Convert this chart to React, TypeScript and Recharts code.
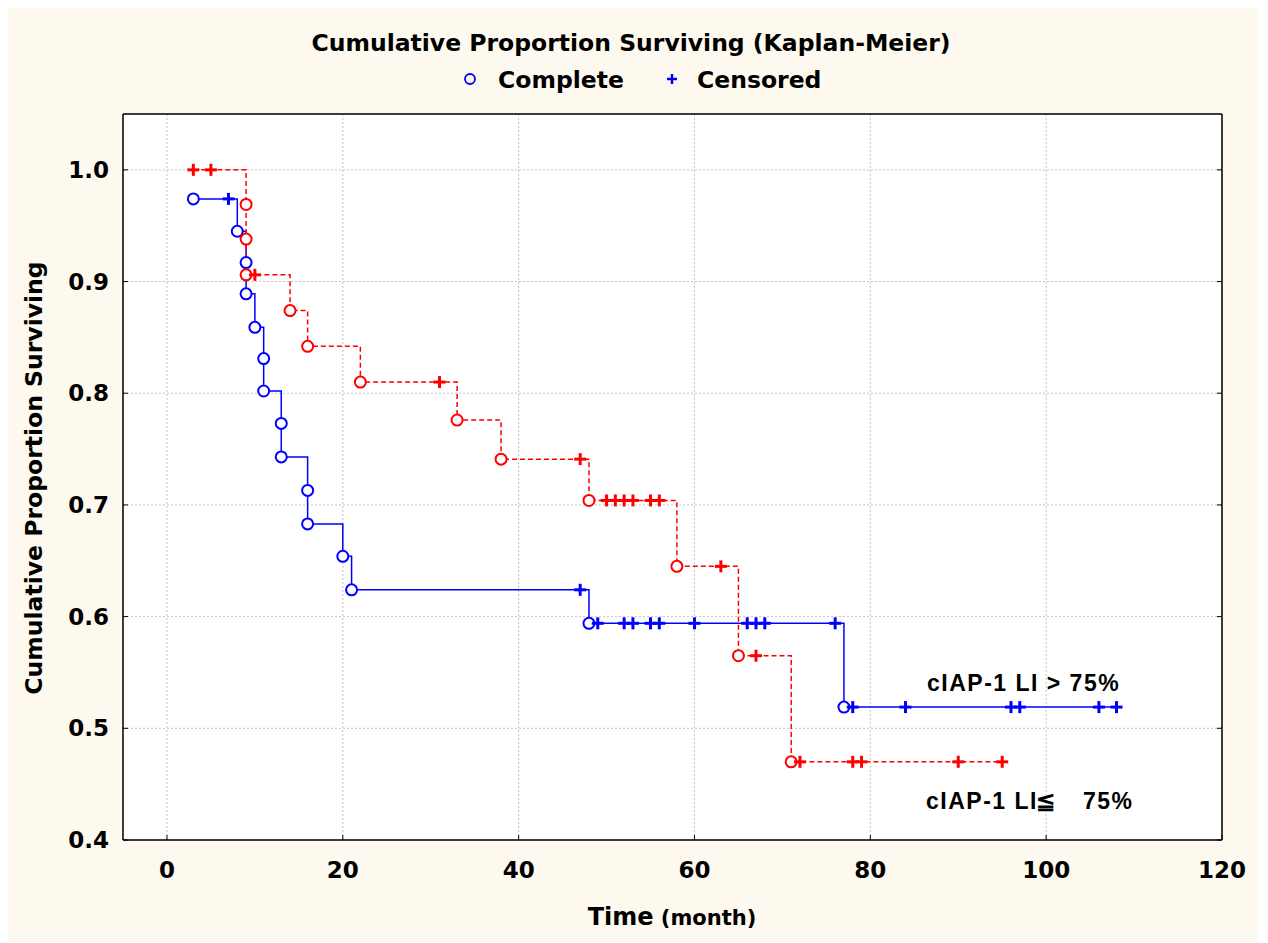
import React from 'react';
import { ComposedChart, Line, Scatter, XAxis, YAxis, CartesianGrid } from 'recharts';

// cIAP-1 LI > 75%  (blue, solid)
const highCurve = [
  { t: 3, s: 0.974 }, { t: 8, s: 0.945 }, { t: 9, s: 0.917 }, { t: 9, s: 0.889 },
  { t: 10, s: 0.859 }, { t: 11, s: 0.831 }, { t: 11, s: 0.802 }, { t: 13, s: 0.773 },
  { t: 13, s: 0.743 }, { t: 16, s: 0.713 }, { t: 16, s: 0.683 }, { t: 20, s: 0.654 },
  { t: 21, s: 0.624 }, { t: 48, s: 0.594 }, { t: 77, s: 0.519 }, { t: 108, s: 0.519 },
];
const highComplete = highCurve.slice(0, 15);
const highCensored = [
  { t: 7, s: 0.974 }, { t: 47, s: 0.624 }, { t: 49, s: 0.594 }, { t: 52, s: 0.594 },
  { t: 53, s: 0.594 }, { t: 55, s: 0.594 }, { t: 56, s: 0.594 }, { t: 60, s: 0.594 },
  { t: 66, s: 0.594 }, { t: 67, s: 0.594 }, { t: 68, s: 0.594 }, { t: 76, s: 0.594 },
  { t: 78, s: 0.519 }, { t: 84, s: 0.519 }, { t: 96, s: 0.519 }, { t: 97, s: 0.519 },
  { t: 106, s: 0.519 }, { t: 108, s: 0.519 },
];

// cIAP-1 LI ≦ 75%  (red, dashed)
const lowCurve = [
  { t: 3, s: 1.0 }, { t: 9, s: 0.969 }, { t: 9, s: 0.938 }, { t: 9, s: 0.906 },
  { t: 14, s: 0.874 }, { t: 16, s: 0.842 }, { t: 22, s: 0.81 }, { t: 33, s: 0.776 },
  { t: 38, s: 0.741 }, { t: 48, s: 0.704 }, { t: 58, s: 0.645 }, { t: 65, s: 0.565 },
  { t: 71, s: 0.47 }, { t: 95, s: 0.47 },
];
const lowComplete = lowCurve.slice(1, 13);
const lowCensored = [
  { t: 3, s: 1.0 }, { t: 5, s: 1.0 }, { t: 10, s: 0.906 }, { t: 31, s: 0.81 },
  { t: 47, s: 0.741 }, { t: 50, s: 0.704 }, { t: 51, s: 0.704 }, { t: 52, s: 0.704 },
  { t: 53, s: 0.704 }, { t: 55, s: 0.704 }, { t: 56, s: 0.704 }, { t: 63, s: 0.645 },
  { t: 67, s: 0.565 }, { t: 72, s: 0.47 }, { t: 78, s: 0.47 }, { t: 79, s: 0.47 },
  { t: 90, s: 0.47 }, { t: 95, s: 0.47 },
];

const xTicks = [0, 20, 40, 60, 80, 100, 120];
const yTicks = [0.4, 0.5, 0.6, 0.7, 0.8, 0.9, 1.0];

const BLUE = '#0000ff';
const RED = '#ff0000';
const FONT = '"DejaVu Sans", Verdana, sans-serif';
const W = 1249;
const H = 934;

const tickStyle = { fill: '#000', fontSize: 23, fontWeight: 'bold', fontFamily: FONT };
const axisLine = { stroke: '#000', strokeWidth: 1.5 };

const circle = (color: string) => (p: any) => (
  <circle cx={p.cx} cy={p.cy} r={5.5} fill="#fff" stroke={color} strokeWidth={2} />
);
const cross = (color: string) => (p: any) => (
  <g stroke={color} strokeWidth={3}>
    <line x1={p.cx - 6} x2={p.cx + 6} y1={p.cy} y2={p.cy} />
    <line x1={p.cx} x2={p.cx} y1={p.cy - 6} y2={p.cy + 6} />
  </g>
);
const noTick = () => <g />;

export default function App() {
  return (
    <div style={{ position: 'relative', width: W, height: H, background: '#fdf9ee' }}>
      <ComposedChart width={W} height={H} margin={{ top: 104, right: 33, bottom: 72, left: 55 }}>
        <CartesianGrid stroke="#c4c4c4" strokeDasharray="2 2" fill="#ffffff" />
        <XAxis
          dataKey="t"
          type="number"
          domain={[-5, 120]}
          ticks={xTicks}
          allowDataOverflow
          height={30}
          tickSize={-5}
          tickMargin={27}
          tick={tickStyle}
          axisLine={axisLine}
          tickLine={{ stroke: '#000' }}
        />
        <XAxis
          xAxisId="top"
          orientation="top"
          type="number"
          domain={[-5, 120]}
          ticks={xTicks}
          allowDataOverflow
          height={2}
          tickSize={-5}
          tick={noTick}
          axisLine={axisLine}
          tickLine={{ stroke: '#000' }}
        />
        <YAxis
          type="number"
          domain={[0.4, 1.05]}
          ticks={yTicks}
          allowDataOverflow
          width={60}
          tickSize={-5}
          tickMargin={19}
          tick={tickStyle}
          tickFormatter={(v: number) => v.toFixed(1)}
          axisLine={axisLine}
          tickLine={{ stroke: '#000' }}
        />
        <YAxis
          yAxisId="right"
          orientation="right"
          type="number"
          domain={[0.4, 1.05]}
          ticks={yTicks}
          allowDataOverflow
          width={2}
          tickSize={-5}
          tick={noTick}
          axisLine={axisLine}
          tickLine={{ stroke: '#000' }}
        />
        <Line data={highCurve} dataKey="s" type="stepAfter" stroke={BLUE} strokeWidth={1.5} dot={false} isAnimationActive={false} />
        <Line data={lowCurve} dataKey="s" type="stepAfter" stroke={RED} strokeWidth={1.5} strokeDasharray="5 3" dot={false} isAnimationActive={false} />
        <Scatter data={highComplete} dataKey="s" shape={circle(BLUE)} isAnimationActive={false} />
        <Scatter data={highCensored} dataKey="s" shape={cross(BLUE)} isAnimationActive={false} />
        <Scatter data={lowComplete} dataKey="s" shape={circle(RED)} isAnimationActive={false} />
        <Scatter data={lowCensored} dataKey="s" shape={cross(RED)} isAnimationActive={false} />
      </ComposedChart>
      <svg width={W} height={H} style={{ position: 'absolute', left: 0, top: 0, pointerEvents: 'none' }}>
        <g fontFamily={FONT} fontWeight="bold" fill="#000">
          <text x={623} y={43} fontSize={23.5} textAnchor="middle">
            Cumulative Proportion Surviving (Kaplan-Meier)
          </text>
          <circle cx={462} cy={71} r={5} fill="none" stroke={BLUE} strokeWidth={1.8} />
          <text x={490} y={80} fontSize={23.5}>Complete</text>
          <g stroke={BLUE} strokeWidth={2.5}>
            <line x1={659} x2={669} y1={71} y2={71} />
            <line x1={664} x2={664} y1={66} y2={76} />
          </g>
          <text x={689} y={80} fontSize={23.5}>Censored</text>
          <text transform="translate(34,470) rotate(-90)" fontSize={23.5} textAnchor="middle">
            Cumulative Proportion Surviving
          </text>
          <text x={664} y={917} textAnchor="middle" fontSize={24}>
            Time<tspan fontSize={21}> (month)</tspan>
          </text>
        </g>
        <g fontFamily='"Liberation Sans", Arial, sans-serif' fontWeight="bold" fill="#000" fontSize={23} letterSpacing={1.5}>
          <text x={919} y={683}>cIAP-1 LI &gt; 75%</text>
          <text x={918} y={801}>cIAP-1 LI</text>
          <text x={1028} y={801} letterSpacing={0}>≦</text>
          <text x={1075} y={801}>75%</text>
        </g>
      </svg>
    </div>
  );
}
